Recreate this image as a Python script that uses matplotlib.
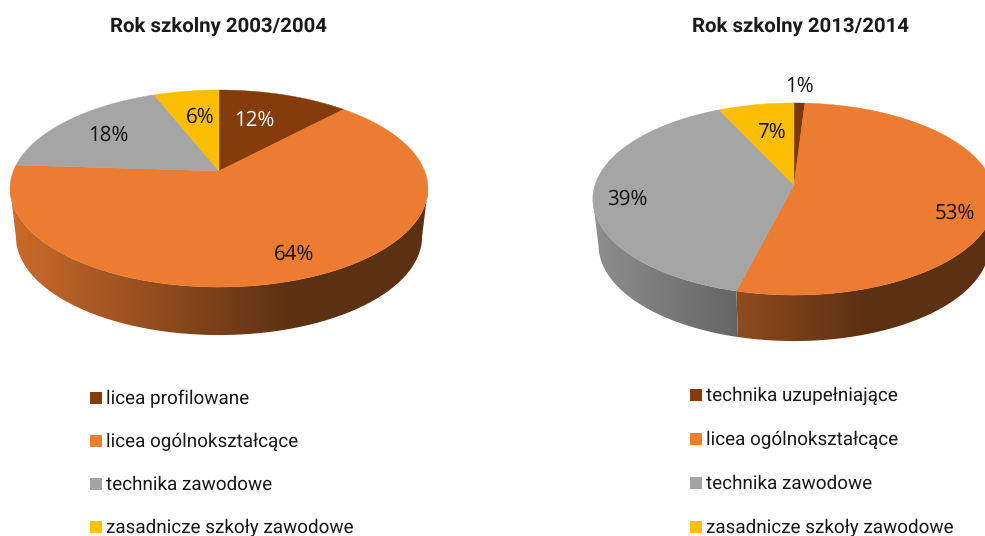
import matplotlib

matplotlib.use("Agg")
import matplotlib.pyplot as plt
import numpy as np
from matplotlib.patches import PathPatch, Rectangle
from matplotlib.path import Path

plt.rcParams["text.hinting"] = "none"

# Values
titles = ["Rok szkolny 2003/2004", "Rok szkolny 2013/2014"]
labels_left = [
    "licea profilowane",
    "licea ogólnokształcące",
    "technika zawodowe",
    "zasadnicze szkoły zawodowe",
]
labels_right = [
    "technika uzupełniające",
    "licea ogólnokształcące",
    "technika zawodowe",
    "zasadnicze szkoły zawodowe",
]
values_left = [12, 64, 18, 6]
values_right = [1, 53, 39, 7]
colors_left = ["#843C0C", "#EB7C31", "#A5A5A5", "#FCBE00"]
colors_right = ["#7A380C", "#EB7C31", "#A5A5A5", "#FCBE00"]
legend_colors = ["#843C0C", "#ED7D31", "#A5A5A5", "#FFC000"]

LEGEND_SIZE = 13.6


def project(frac, cx, cy, a, b, k):
    # pie seen in perspective: frac runs clockwise from 12 o'clock
    u = np.sin(2 * np.pi * frac)
    v = np.cos(2 * np.pi * frac)
    d = 1 + k * v
    return cx + a * u / d, cy - b * v / d


def draw_pie(ax, values, colors, cx, cy, a, b, k, depth):
    fracs = np.cumsum([0] + values) / sum(values)

    # only the front of the rim is seen: from rightmost to leftmost point
    tt = np.linspace(0, 1, 2001)
    xx, _ = project(tt, cx, cy, a, b, k)
    front0, front1 = tt[np.argmax(xx)], tt[np.argmin(xx)]

    for i, col in enumerate(colors):
        t0, t1 = max(fracs[i], front0), min(fracs[i + 1], front1)
        if t1 <= t0:
            continue
        t = np.linspace(t0, t1, 200)
        x, y = project(t, cx, cy, a, b, k)

        # side wall with horizontal shading
        xb = cx + (x - cx) * 0.972
        yb = y + depth
        verts = np.r_[np.c_[x, y], np.c_[xb, yb][::-1], [[x[0], y[0]]]]
        clip = PathPatch(Path(verts), transform=ax.transData, fc="none", ec="none")
        ax.add_patch(clip)
        xs = np.linspace(cx - a * 1.1, cx + a * 1.1, 300)
        shade = np.interp((xs - cx) / a, [-1, 0.35], [0.86, 0.39])
        rgb = np.array(matplotlib.colors.to_rgb(col))
        img = np.clip(shade[None, :, None] * rgb[None, None, :], 0, 1)
        im = ax.imshow(
            img,
            extent=[xs[0], xs[-1], cy + b * 1.6 + depth, cy - b * 1.6],
            aspect="auto",
            zorder=1,
            interpolation="bilinear",
        )
        im.set_clip_path(clip)

    for i, col in enumerate(colors):
        t = np.linspace(fracs[i], fracs[i + 1], 200)
        x, y = project(t, cx, cy, a, b, k)
        ax.fill(np.r_[cx, x], np.r_[cy, y], color=col, lw=0.3, zorder=2)


def draw_legend(ax, labels, x0, rows):
    for label, col, y in zip(labels, legend_colors, rows):
        ax.add_patch(Rectangle((x0, y - 6), 12, 12, fc=col, ec="none"))
        ax.text(
            x0 + 16, y + 1, label, fontsize=LEGEND_SIZE, family="Roboto",
            color="#1a1a1a", ha="left", va="center",
        )


fig = plt.figure(figsize=(9.85, 5.36), dpi=100)
ax = fig.add_axes([0, 0, 1, 1])

draw_pie(ax, values_left, colors_left, 219, 171, 205.6, 95.4, 0.178, 48)
draw_pie(ax, values_right, colors_right, 794, 185, 199, 94, 0.146, 46)

ax.set_xlim(0, 985)
ax.set_ylim(536, 0)
ax.axis("off")

for title, xc in zip(titles, [218.5, 800]):
    ax.text(
        xc, 26, title, fontsize=14.7, fontweight="bold", family="Roboto",
        color="#1a1a1a", ha="center", va="center",
    )

pct_left = [(254, 120, "white"), (294, 254, "#111111"), (108, 135, "#111111"), (200, 117, "#111111")]
for val, (x, y, c) in zip(values_left, pct_left):
    ax.text(x, y, f"{val}%", fontsize=14.8, family="Open Sans", color=c,
            ha="center", va="center", zorder=3)

pct_right = [(799, 86, "#111111"), (955, 213, "#111111"), (627, 199, "#111111"), (771, 132, "#111111")]
for val, (x, y, c) in zip(values_right, pct_right):
    ax.text(x, y, f"{val}%", fontsize=14.8, family="Open Sans", color=c,
            ha="center", va="center", zorder=3)

draw_legend(ax, labels_left, 90, [398, 441, 484, 527])
draw_legend(ax, labels_right, 690, [395, 439, 483, 527])

fig.savefig("out.png", dpi=100)
